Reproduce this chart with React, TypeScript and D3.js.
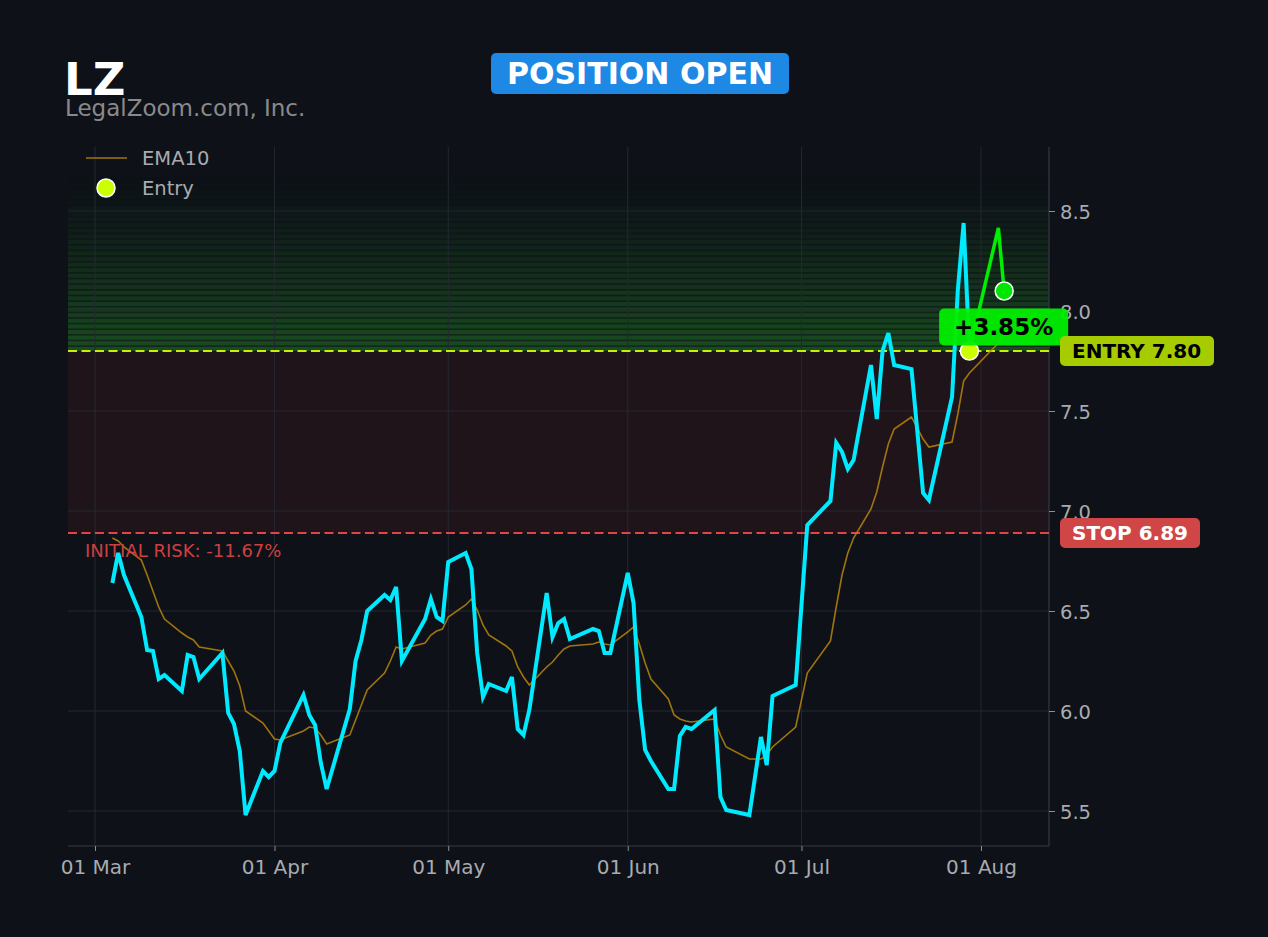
import React, { useEffect, useRef } from "react";
import * as d3 from "d3";

// trade data (2025)
const dates = [
  "2025-03-04", "2025-03-05", "2025-03-06", "2025-03-09", "2025-03-10", "2025-03-11", "2025-03-12", "2025-03-13",
  "2025-03-16", "2025-03-17", "2025-03-18", "2025-03-19", "2025-03-23", "2025-03-24", "2025-03-25", "2025-03-26",
  "2025-03-27", "2025-03-30", "2025-03-31", "2025-04-01", "2025-04-02", "2025-04-06", "2025-04-07", "2025-04-08",
  "2025-04-09", "2025-04-10", "2025-04-14", "2025-04-15", "2025-04-16", "2025-04-17", "2025-04-20", "2025-04-21",
  "2025-04-22", "2025-04-23", "2025-04-27", "2025-04-28", "2025-04-29", "2025-04-30", "2025-05-01", "2025-05-04",
  "2025-05-05", "2025-05-06", "2025-05-07", "2025-05-08", "2025-05-11", "2025-05-12", "2025-05-13", "2025-05-14",
  "2025-05-15", "2025-05-18", "2025-05-19", "2025-05-20", "2025-05-21", "2025-05-22", "2025-05-26", "2025-05-27",
  "2025-05-28", "2025-05-29", "2025-06-01", "2025-06-02", "2025-06-03", "2025-06-04", "2025-06-05", "2025-06-08",
  "2025-06-09", "2025-06-10", "2025-06-11", "2025-06-12", "2025-06-16", "2025-06-17", "2025-06-18", "2025-06-22",
  "2025-06-24", "2025-06-25", "2025-06-26", "2025-06-30", "2025-07-02", "2025-07-06", "2025-07-07", "2025-07-08",
  "2025-07-09", "2025-07-10", "2025-07-13", "2025-07-14", "2025-07-15", "2025-07-16", "2025-07-17", "2025-07-20",
  "2025-07-22", "2025-07-23", "2025-07-27", "2025-07-28", "2025-07-29", "2025-07-30", "2025-08-04", "2025-08-05",
];

const closes = [
  6.64, 6.79, 6.68, 6.47, 6.305, 6.3, 6.16, 6.18, 6.1, 6.28,
  6.27, 6.16, 6.29, 5.99, 5.935, 5.8, 5.48, 5.7, 5.67, 5.7,
  5.84, 6.08, 5.98, 5.93, 5.74, 5.61, 6.01, 6.25, 6.355, 6.5,
  6.58, 6.555, 6.62, 6.25, 6.46, 6.56, 6.47, 6.45, 6.745, 6.79,
  6.71, 6.29, 6.07, 6.135, 6.1, 6.17, 5.91, 5.88, 6.005, 6.59,
  6.37, 6.44, 6.46, 6.36, 6.41, 6.4, 6.29, 6.29, 6.69, 6.54,
  6.055, 5.805, 5.75, 5.61, 5.61, 5.875, 5.92, 5.91, 6.005, 5.57,
  5.505, 5.48, 5.87, 5.73, 6.075, 6.13, 6.93, 7.05, 7.34, 7.295,
  7.21, 7.255, 7.73, 7.46, 7.8, 7.89, 7.73, 7.71, 7.09, 7.055,
  7.57, 8.105, 8.44, 7.8, 8.415, 8.1,
];

const ema10 = [
  6.865, 6.85, 6.82, 6.755, 6.68, 6.6, 6.52, 6.46, 6.39, 6.37,
  6.355, 6.32, 6.3, 6.25, 6.2, 6.125, 6.0, 5.94, 5.9, 5.86,
  5.855, 5.9, 5.92, 5.915, 5.88, 5.835, 5.88, 5.955, 6.03, 6.105,
  6.19, 6.25, 6.32, 6.31, 6.34, 6.38, 6.4, 6.41, 6.47, 6.53,
  6.56, 6.505, 6.43, 6.38, 6.325, 6.3, 6.22, 6.17, 6.13, 6.22,
  6.245, 6.28, 6.31, 6.325, 6.335, 6.345, 6.335, 6.33, 6.395, 6.42,
  6.335, 6.24, 6.16, 6.06, 5.98, 5.96, 5.95, 5.945, 5.96, 5.88,
  5.82, 5.76, 5.76, 5.78, 5.82, 5.92, 6.19, 6.35, 6.52, 6.68,
  6.79, 6.865, 7.01, 7.095, 7.22, 7.335, 7.41, 7.47, 7.36, 7.32,
  7.345, 7.485, 7.65, 7.69, 7.84, 7.9,
];

const entryDate = "2025-07-30";
const entryPrice = 7.8;
const stopPrice = 6.89;
const yTicks = [5.5, 6.0, 6.5, 7.0, 7.5, 8.0, 8.5];
const monthTicks = ["2025-03-01", "2025-04-01", "2025-05-01", "2025-06-01", "2025-07-01", "2025-08-01"];

const FONT = "DejaVu Sans, sans-serif";
const BG = "#0e1118";

const App: React.FC = () => {
  const svgRef = useRef<SVGSVGElement | null>(null);

  useEffect(() => {
    const width = 1268;
    const height = 937;
    const margin = { top: 147, right: 219, bottom: 91, left: 68 };
    const parse = d3.utcParse("%Y-%m-%d");
    const xs = dates.map((d) => parse(d) as Date);

    d3.select(svgRef.current).selectAll("*").remove();
    document.body.style.margin = "0";
    document.body.style.background = BG;

    const svg = d3
      .select(svgRef.current)
      .attr("width", width)
      .attr("height", height)
      .style("font-family", FONT);

    svg.append("rect").attr("width", width).attr("height", height).attr("fill", BG);

    const xScale = d3
      .scaleUtc()
      .domain([new Date(Date.UTC(2025, 1, 24, 8, 5)), new Date(Date.UTC(2025, 7, 12, 17, 50))])
      .range([margin.left, width - margin.right]);

    const yScale = d3
      .scaleLinear()
      .domain([5.325, 8.82])
      .range([height - margin.bottom, margin.top]);

    const x0 = margin.left;
    const x1 = width - margin.right;

    // risk zone between stop and entry
    svg
      .append("rect")
      .attr("x", x0)
      .attr("width", x1 - x0)
      .attr("y", yScale(entryPrice))
      .attr("height", yScale(stopPrice) - yScale(entryPrice))
      .attr("fill", "#ff4444")
      .attr("opacity", 0.08);

    // profit zone: striped fade above entry
    const nBands = 32;
    const topVal = 8.7;
    const step = (topVal - entryPrice) / nBands;
    d3.range(nBands).forEach((i) => {
      const lo = entryPrice + i * step;
      const hi = lo + step;
      const t = i / nBands;
      const op = 0.34 * Math.pow(1 - t, 1.4);
      const yTop = yScale(hi);
      const h = yScale(lo) - yTop;
      svg
        .append("rect")
        .attr("x", x0)
        .attr("width", x1 - x0)
        .attr("y", yTop)
        .attr("height", h)
        .attr("fill", "#33cc33")
        .attr("opacity", op * 0.35);
      svg
        .append("rect")
        .attr("x", x0)
        .attr("width", x1 - x0)
        .attr("y", yTop + 1.5)
        .attr("height", Math.max(h - 1.5, 0))
        .attr("fill", "#33cc33")
        .attr("opacity", op * 0.65);
    });

    // grid
    const grid = svg.append("g").attr("stroke", "#242831").attr("stroke-width", 1);
    yTicks.forEach((v) => {
      grid.append("line").attr("x1", x0).attr("x2", x1).attr("y1", yScale(v)).attr("y2", yScale(v));
    });
    monthTicks.forEach((m) => {
      const px = xScale(parse(m) as Date);
      grid.append("line").attr("x1", px).attr("x2", px).attr("y1", margin.top).attr("y2", height - margin.bottom);
    });

    // axes
    const xAxis = svg
      .append("g")
      .attr("transform", `translate(0,${height - margin.bottom})`)
      .call(
        d3
          .axisBottom(xScale)
          .tickValues(monthTicks.map((m) => parse(m) as Date))
          .tickFormat((d: any) => d3.utcFormat("%d %b")(d))
          .tickSize(5)
          .tickPadding(9)
      );
    const yAxis = svg
      .append("g")
      .attr("transform", `translate(${x1},0)`)
      .call(
        d3
          .axisRight(yScale)
          .tickValues(yTicks)
          .tickFormat((d: any) => d3.format(".1f")(d))
          .tickSize(6)
          .tickPadding(5)
      );
    [xAxis, yAxis].forEach((g) => {
      g.select(".domain").attr("stroke", "#353a43").attr("stroke-width", 1.2);
      g.selectAll(".tick line").attr("stroke", "#8a8f98");
      g.selectAll(".tick text").attr("fill", "#a8abb0").style("font-family", FONT);
    });
    xAxis.selectAll(".tick text").attr("font-size", 20);
    yAxis.selectAll(".tick text").attr("font-size", 19.5).attr("dy", "0.36em");
    // x domain only spans the plot
    xAxis.select(".domain").attr("d", `M${x0},0H${x1}`);
    yAxis.select(".domain").attr("d", `M0,${margin.top}V${height - margin.bottom}`);

    // entry & stop lines
    svg
      .append("line")
      .attr("x1", x0)
      .attr("x2", x1)
      .attr("y1", yScale(entryPrice))
      .attr("y2", yScale(entryPrice))
      .attr("stroke", "#ccee00")
      .attr("stroke-width", 2)
      .attr("stroke-dasharray", "9,4.5");
    svg
      .append("line")
      .attr("x1", x0)
      .attr("x2", x1)
      .attr("y1", yScale(stopPrice))
      .attr("y2", yScale(stopPrice))
      .attr("stroke", "#e04646")
      .attr("stroke-width", 2)
      .attr("stroke-dasharray", "9,4.5");

    const entryIdx = dates.indexOf(entryDate);
    const lastIdx = closes.length - 1;

    const line = d3
      .line<number>()
      .x((_, i) => xScale(xs[i]))
      .y((d) => yScale(d));

    // EMA10
    svg
      .append("path")
      .attr("d", line(ema10))
      .attr("fill", "none")
      .attr("stroke", "#b8860b")
      .attr("stroke-width", 1.6)
      .attr("opacity", 0.85);

    // price before entry
    svg
      .append("path")
      .attr("d", line(closes.slice(0, entryIdx + 1)))
      .attr("fill", "none")
      .attr("stroke", "#00eaff")
      .attr("stroke-width", 4)
      .attr("stroke-linejoin", "miter");

    // price after entry
    const after = d3
      .line<number>()
      .x((_, i) => xScale(xs[entryIdx + i]))
      .y((d) => yScale(d));
    svg
      .append("path")
      .attr("d", after(closes.slice(entryIdx)))
      .attr("fill", "none")
      .attr("stroke", "#00ee00")
      .attr("stroke-width", 3.5);

    // markers
    svg
      .append("circle")
      .attr("cx", xScale(xs[entryIdx]))
      .attr("cy", yScale(closes[entryIdx]))
      .attr("r", 9)
      .attr("fill", "#ccff00")
      .attr("stroke", "#ffffff")
      .attr("stroke-width", 1.5);
    svg
      .append("circle")
      .attr("cx", xScale(xs[lastIdx]))
      .attr("cy", yScale(closes[lastIdx]))
      .attr("r", 9)
      .attr("fill", "#00e600")
      .attr("stroke", "#ffffff")
      .attr("stroke-width", 1.5);

    // pnl badge
    const pnl = ((closes[lastIdx] - entryPrice) / entryPrice) * 100;
    const bx = xScale(xs[lastIdx]);
    const by = yScale(closes[lastIdx]) + 36;
    svg
      .append("rect")
      .attr("x", bx - 65)
      .attr("y", by - 18.5)
      .attr("width", 129)
      .attr("height", 37)
      .attr("rx", 5)
      .attr("fill", "#00ee00")
      .attr("opacity", 0.95);
    svg
      .append("text")
      .attr("x", bx - 0.5)
      .attr("y", by + 8)
      .attr("text-anchor", "middle")
      .attr("font-size", 23)
      .attr("font-weight", "bold")
      .attr("fill", "#000")
      .text(`${pnl >= 0 ? "+" : ""}${pnl.toFixed(2)}%`);

    // right-side price tags
    const tag = (v: number, label: string, fill: string, color: string, w: number) => {
      const cy = yScale(v);
      svg
        .append("rect")
        .attr("x", x1 + 11)
        .attr("y", cy - 15)
        .attr("width", w)
        .attr("height", 30)
        .attr("rx", 5)
        .attr("fill", fill);
      svg
        .append("text")
        .attr("x", x1 + 23)
        .attr("y", cy + 7)
        .attr("font-size", 20)
        .attr("font-weight", "bold")
        .attr("fill", color)
        .text(label);
    };
    tag(entryPrice, `ENTRY ${entryPrice.toFixed(2)}`, "#a6cc00", "#000", 154);
    tag(stopPrice, `STOP ${stopPrice.toFixed(2)}`, "#d04545", "#fff", 140);

    const risk = ((stopPrice - entryPrice) / entryPrice) * 100;
    svg
      .append("text")
      .attr("x", 85)
      .attr("y", yScale(stopPrice) + 24)
      .attr("font-size", 18)
      .attr("fill", "#cc4040")
      .text(`INITIAL RISK: ${risk.toFixed(2)}%`);

    // legend
    svg
      .append("line")
      .attr("x1", 86)
      .attr("x2", 127)
      .attr("y1", 158)
      .attr("y2", 158)
      .attr("stroke", "#b8860b")
      .attr("stroke-width", 1.6)
      .attr("opacity", 0.85);
    svg
      .append("text")
      .attr("x", 142)
      .attr("y", 165)
      .attr("font-size", 19.5)
      .attr("fill", "#a8abb0")
      .text("EMA10");
    svg
      .append("circle")
      .attr("cx", 106)
      .attr("cy", 188)
      .attr("r", 9)
      .attr("fill", "#ccff00")
      .attr("stroke", "#fff")
      .attr("stroke-width", 1.5);
    svg
      .append("text")
      .attr("x", 142)
      .attr("y", 195)
      .attr("font-size", 19.5)
      .attr("fill", "#a8abb0")
      .text("Entry");

    // titles
    svg
      .append("text")
      .attr("x", 64)
      .attr("y", 95)
      .attr("font-size", 45)
      .attr("font-weight", "bold")
      .attr("fill", "#ffffff")
      .text("LZ");
    svg
      .append("text")
      .attr("x", 65)
      .attr("y", 116)
      .attr("font-size", 23)
      .attr("fill", "#8a8a8a")
      .text("LegalZoom.com, Inc.");

    svg
      .append("rect")
      .attr("x", 491)
      .attr("y", 53)
      .attr("width", 298)
      .attr("height", 41)
      .attr("rx", 5)
      .attr("fill", "#1e88e5");
    svg
      .append("text")
      .attr("x", 640)
      .attr("y", 84)
      .attr("text-anchor", "middle")
      .attr("font-size", 30)
      .attr("font-weight", "bold")
      .attr("fill", "#ffffff")
      .text("POSITION OPEN");
  }, []);

  return <svg ref={svgRef} style={{ display: "block", position: "absolute", left: 0, top: 0 }}></svg>;
};

export default App;
